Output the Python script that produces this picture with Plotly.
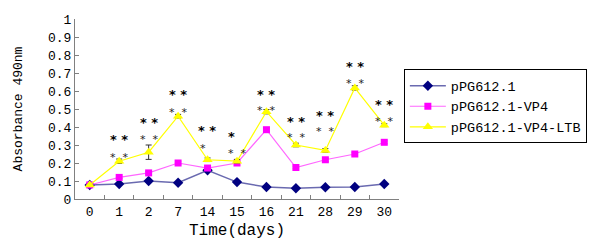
import plotly.graph_objects as go

days = ["0", "1", "2", "7", "14", "15", "16", "21", "28", "29", "30"]
pPG = [0.078, 0.083, 0.100, 0.090, 0.160, 0.094, 0.067, 0.060, 0.065, 0.067, 0.083]
pPG_err = [0.004, 0.004, 0.005, 0.004, 0.006, 0.004, 0.004, 0.004, 0.004, 0.004, 0.005]
vp4 = [0.078, 0.120, 0.145, 0.200, 0.172, 0.200, 0.385, 0.175, 0.218, 0.250, 0.315]
vp4_err = [0.004, 0.006, 0.007, 0.008, 0.006, 0.007, 0.008, 0.007, 0.008, 0.007, 0.008]
ltb = [0.078, 0.210, 0.260, 0.460, 0.218, 0.210, 0.485, 0.300, 0.270, 0.617, 0.410]
ltb_err = [0.004, 0.012, 0.040, 0.010, 0.010, 0.010, 0.012, 0.010, 0.010, 0.012, 0.008]

# significance marks (text, y position, x pixel shift)
bold_txt = ["", "* *", "* *", "* *", "* *", "*", "* *", "* *", "* *", "* *", "* *"]
bold_y = [None, 0.35, 0.44, 0.60, 0.40, 0.365, 0.60, 0.45, 0.48, 0.755, 0.54]
bold_dx = [0, 0, 0, 0, -1, -6, 0, 0, 0, 0, 0]
light_txt = ["", "*  *", "*  *", "*  *", "*", "*  *", "*  *", "*  *", "*  *", "*  *", "*  *"]
light_y = [None, 0.25, 0.35, 0.50, 0.30, 0.27, 0.51, 0.36, 0.39, 0.66, 0.445]
light_dx = [0, 0, 0, 0, -5, 0, 0, 0, 0, 0, 0]

MONO = "Liberation Mono"

fig = go.Figure()
fig.add_trace(go.Scatter(
    x=days, y=pPG, name="pPG612.1", mode="lines+markers",
    line=dict(color="#6a6ab0", width=1.5),
    marker=dict(symbol="diamond", size=8, color="#000080"),
    error_y=dict(type="data", array=pPG_err, color="#333333", thickness=1, width=3),
))
fig.add_trace(go.Scatter(
    x=days, y=vp4, name="pPG612.1-VP4", mode="lines+markers",
    line=dict(color="#ff66ff", width=1.2),
    marker=dict(symbol="square", size=7, color="#ff00ff"),
    error_y=dict(type="data", array=vp4_err, color="#333333", thickness=1, width=3),
))
fig.add_trace(go.Scatter(
    x=days, y=ltb, name="pPG612.1-VP4-LTB", mode="lines+markers",
    line=dict(color="#ffff00", width=1.2),
    marker=dict(symbol="triangle-up", size=9, color="#ffff00"),
    error_y=dict(type="data", array=ltb_err, color="#333333", thickness=1, width=3),
))

annotations = []
for i, (t, yv, dx) in enumerate(zip(bold_txt, bold_y, bold_dx)):
    if yv is None:
        continue
    annotations.append(dict(x=i, y=yv, xref="x", yref="y", text="<b>" + t + "</b>",
                            showarrow=False, xshift=dx, yshift=-3,
                            font=dict(family="DejaVu Sans", size=13, color="#000000")))
for i, (t, yv, dx) in enumerate(zip(light_txt, light_y, light_dx)):
    if yv is None:
        continue
    annotations.append(dict(x=i, y=yv, xref="x", yref="y", text=t,
                            showarrow=False, xshift=dx, yshift=-3,
                            font=dict(family="DejaVu Sans", size=11, color="#222222")))

fig.update_layout(
    width=600, height=243,
    margin=dict(l=67, r=209, t=11, b=52, autoexpand=False),
    paper_bgcolor="white", plot_bgcolor="white",
    font=dict(family=MONO, size=13, color="#000000"),
    showlegend=True,
    legend=dict(x=1.015, y=0.72, xanchor="left", yanchor="top",
                bordercolor="#000000", borderwidth=1, bgcolor="white",
                font=dict(family=MONO, size=13.5, color="#000000"),
                itemwidth=36, tracegroupgap=0),
    annotations=annotations,
    xaxis=dict(
        type="category", categoryorder="array", categoryarray=days,
        range=[-0.5, len(days) - 0.5], autorange=False,
        tickson="boundaries", ticks="inside", ticklen=4,
        tickcolor="#808080", showline=True, linecolor="#808080", linewidth=1,
        showgrid=False, zeroline=False, tickangle=0,
        tickfont=dict(family=MONO, size=13),
        title=dict(text="Time(days)", font=dict(family=MONO, size=16), standoff=5),
    ),
    yaxis=dict(
        range=[0, 1], dtick=0.1, ticks="inside", ticklen=4,
        tickcolor="#808080", showline=True, linecolor="#808080", linewidth=1,
        showgrid=False, zeroline=False,
        tickfont=dict(family=MONO, size=13),
        title=dict(text="Absorbance 490nm", font=dict(family=MONO, size=13), standoff=22),
    ),
)

fig.write_html("out.html")
